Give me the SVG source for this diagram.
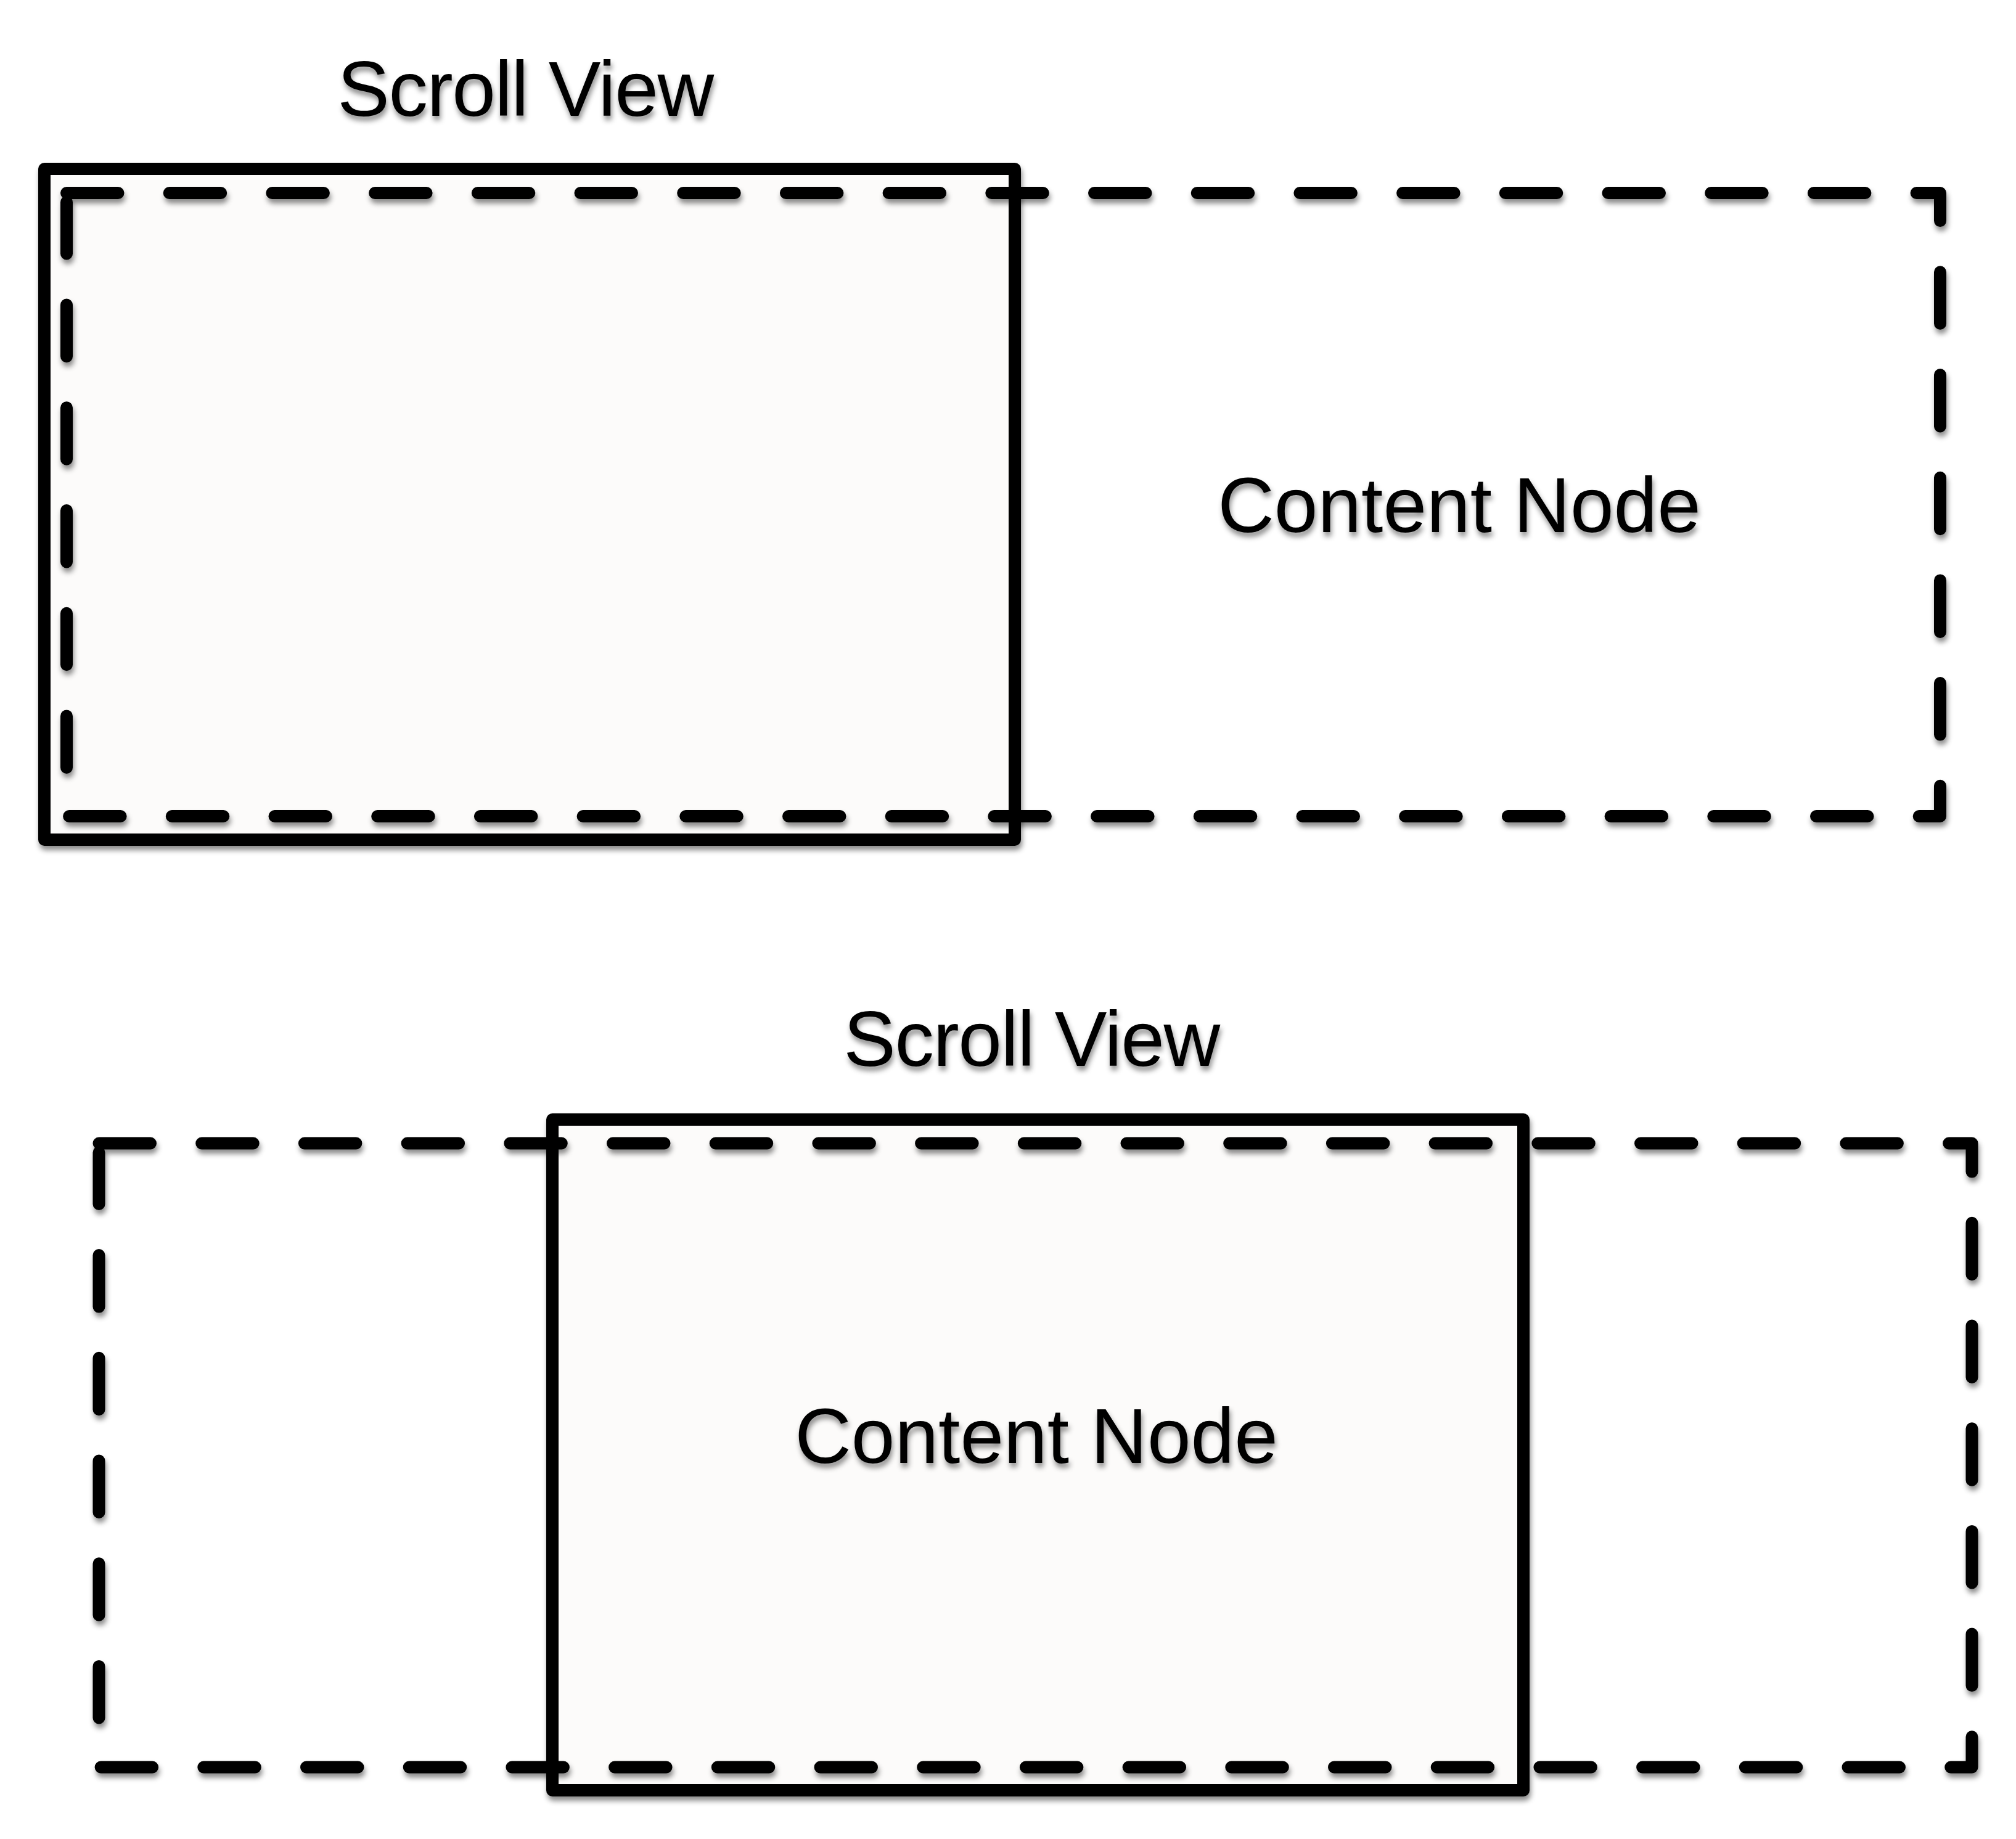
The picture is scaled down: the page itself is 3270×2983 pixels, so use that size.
<svg xmlns="http://www.w3.org/2000/svg" width="3270" height="2983" viewBox="0 0 3270 2983">
  <defs>
    <filter id="shadow" x="-5%" y="-5%" width="110%" height="110%">
      <feDropShadow dx="2" dy="7" stdDeviation="4" flood-color="#000000" flood-opacity="0.45"/>
    </filter>
    <style>
      .frame { fill: #fcfbfa; stroke: #000000; stroke-width: 20; stroke-linejoin: round; filter: url(#shadow); }
      .content { fill: none; stroke: #000000; stroke-width: 20; stroke-linecap: round; stroke-linejoin: round; stroke-dasharray: 83.5 83.2; filter: url(#shadow); }
      .label { font-family: "Liberation Sans", Arial, Helvetica, sans-serif; font-size: 127px; fill: #000000; text-anchor: middle; filter: url(#shadow); }
      .tight { letter-spacing: -1.5px; }
    </style>
  </defs>
  <rect width="3270" height="2983" fill="#ffffff"/>

  <g id="top-scroll-view">
    <rect class="frame" x="72" y="274" width="1574" height="1088"/>
    <text class="label tight" x="852" y="188">Scroll View</text>
  </g>
  <g id="top-content-node">
    <rect class="content" x="108" y="313" width="3039" height="1011"/>
    <text class="label" x="2367" y="863">Content Node</text>
  </g>

  <g id="bottom-scroll-view">
    <rect class="frame" x="896" y="1816" width="1575" height="1088"/>
    <text class="label tight" x="1673" y="1729">Scroll View</text>
  </g>
  <g id="bottom-content-node">
    <rect class="content" x="160.5" y="1854.5" width="3038" height="1012"/>
    <text class="label" x="1681" y="2373">Content Node</text>
  </g>

  <g id="connectors"></g>
</svg>
